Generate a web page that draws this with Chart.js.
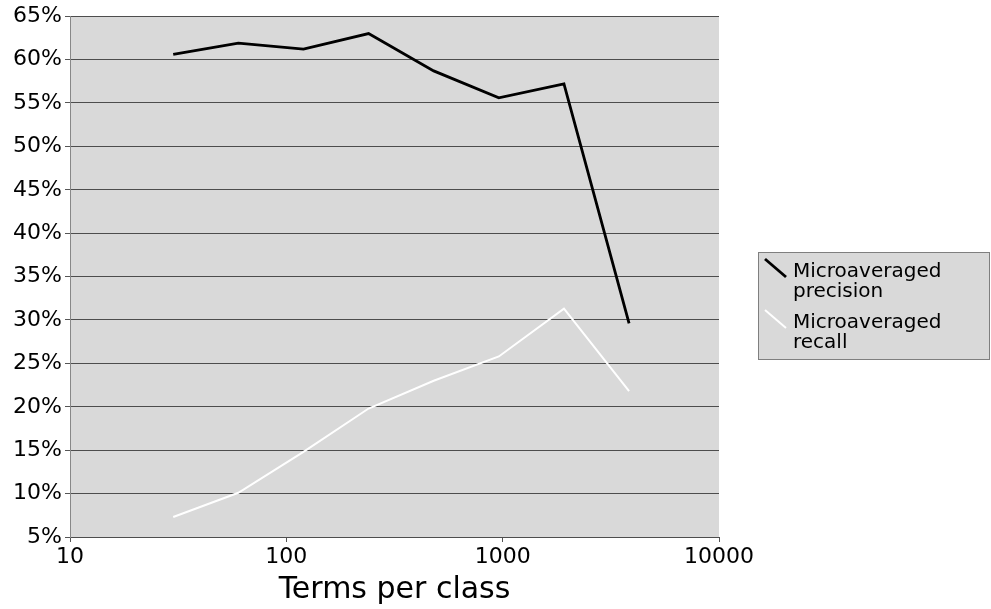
<!DOCTYPE html>
<html>
<head>
<meta charset="utf-8">
<script src="https://cdn.jsdelivr.net/npm/chart.js@4.4.0/dist/chart.umd.min.js"></script>
<style>
html, body { margin: 0; padding: 0; background: #fff; }
canvas { display: block; }
</style>
</head>
<body>
<canvas id="chart" width="991" height="609"></canvas>
<script>
// values
var termsPerClass = [30, 60, 120, 240, 480, 960, 1920, 3840];
var precision = [60.6, 61.9, 61.2, 63.0, 58.7, 55.6, 57.2, 29.6];
var recall = [7.3, 10.1, 14.8, 19.8, 23.0, 25.8, 31.3, 21.8];
var seriesLabels = ['Microaveraged precision', 'Microaveraged recall'];
var xTickValues = [10, 100, 1000, 10000];
var yMin = 5, yMax = 65, yStep = 5;
var xTitle = 'Terms per class';

var FONT = 'DejaVu Sans';

function toPoints(xs, ys) {
  var pts = [];
  for (var i = 0; i < xs.length; i++) {
    pts.push({ x: xs[i], y: ys[i] });
  }
  return pts;
}

// grey plot area
var plotBackground = {
  id: 'plotBackground',
  beforeDraw: function(chart) {
    var a = chart.chartArea;
    var ctx = chart.ctx;
    ctx.save();
    ctx.fillStyle = '#d9d9d9';
    ctx.fillRect(a.left, a.top, a.right - a.left, a.bottom - a.top);
    ctx.restore();
  }
};

// boxed legend on the right, two-line labels
var boxLegend = {
  id: 'boxLegend',
  afterDraw: function(chart) {
    var ctx = chart.ctx;
    var x = 758, w = 232, h = 108;
    var y = 252;
    ctx.save();
    ctx.fillStyle = '#d9d9d9';
    ctx.fillRect(x, y, w, h);
    ctx.strokeStyle = '#7f7f7f';
    ctx.lineWidth = 1;
    ctx.strokeRect(x + 0.5, y + 0.5, w - 1, h - 1);

    ctx.font = '20px "' + FONT + '"';
    ctx.textBaseline = 'alphabetic';
    ctx.textAlign = 'left';
    var base = y + 25;
    chart.data.datasets.forEach(function(ds) {
      var words = ds.label.split(' ');
      ctx.strokeStyle = ds.borderColor;
      ctx.lineWidth = ds.borderWidth;
      ctx.beginPath();
      ctx.moveTo(x + 7, base - 18);
      ctx.lineTo(x + 28, base);
      ctx.stroke();
      ctx.fillStyle = '#000';
      for (var i = 0; i < words.length; i++) {
        ctx.fillText(words[i], x + 35, base + i * 20);
      }
      base += 51;
    });
    ctx.restore();
  }
};

var ctx = document.getElementById('chart').getContext('2d');
var chart = new Chart(ctx, {
  type: 'line',
  data: {
    datasets: [{
      label: seriesLabels[0],
      data: toPoints(termsPerClass, precision),
      borderColor: '#000000',
      borderWidth: 2.8,
      pointRadius: 0,
      tension: 0,
      fill: false
    }, {
      label: seriesLabels[1],
      data: toPoints(termsPerClass, recall),
      borderColor: '#ffffff',
      borderWidth: 2,
      pointRadius: 0,
      tension: 0,
      fill: false
    }]
  },
  options: {
    responsive: false,
    animation: false,
    layout: { padding: { top: 15, right: 272, left: 0, bottom: 0 } },
    plugins: {
      legend: { display: false },
      tooltip: { enabled: false }
    },
    scales: {
      x: {
        type: 'logarithmic',
        min: xTickValues[0],
        max: xTickValues[xTickValues.length - 1],
        afterBuildTicks: function(scale) {
          scale.ticks = xTickValues.map(function(v) { return { value: v, major: true }; });
        },
        afterFit: function(scale) { scale.height = 72; },
        ticks: {
          color: '#000',
          font: { family: FONT, size: 22 },
          padding: 2,
          maxRotation: 0,
          autoSkip: false,
          callback: function(v) { return String(v); }
        },
        grid: {
          drawOnChartArea: false,
          drawTicks: true,
          tickLength: 5,
          tickColor: '#555'
        },
        border: { color: '#4d4d4d', width: 1 },
        title: {
          display: true,
          text: xTitle,
          color: '#000',
          font: { family: FONT, size: 30 },
          padding: { top: 0, bottom: 1 }
        }
      },
      y: {
        min: yMin,
        max: yMax,
        afterFit: function(scale) { scale.width = 70; },
        ticks: {
          stepSize: yStep,
          color: '#000',
          font: { family: FONT, size: 22 },
          padding: 3,
          callback: function(v) { return v + '%'; }
        },
        grid: {
          color: '#4d4d4d',
          lineWidth: 1,
          tickLength: 5,
          tickColor: '#555'
        },
        border: { color: '#888', width: 1 }
      }
    }
  },
  plugins: [plotBackground, boxLegend]
});
</script>
</body>
</html>
